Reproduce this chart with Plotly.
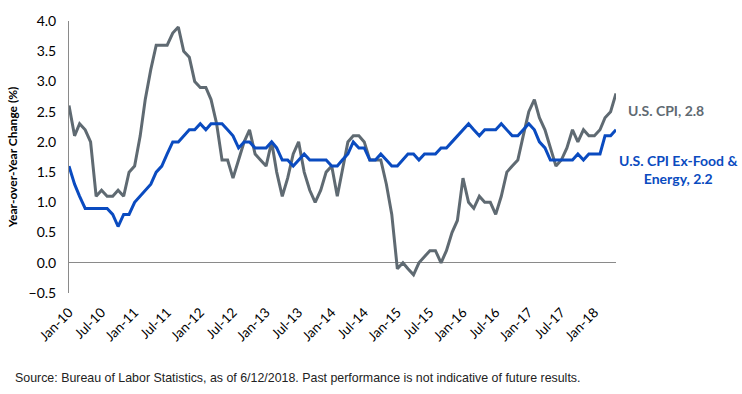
import pandas as pd
import plotly.graph_objects as go

months = pd.date_range("2010-01-01", periods=101, freq="MS")

cpi = [2.6, 2.1, 2.3, 2.2, 2.0, 1.1, 1.2, 1.1, 1.1, 1.2, 1.1, 1.5,
       1.6, 2.1, 2.7, 3.2, 3.6, 3.6, 3.6, 3.8, 3.9, 3.5, 3.4, 3.0,
       2.9, 2.9, 2.7, 2.3, 1.7, 1.7, 1.4, 1.7, 2.0, 2.2, 1.8, 1.7,
       1.6, 2.0, 1.5, 1.1, 1.4, 1.8, 2.0, 1.5, 1.2, 1.0, 1.2, 1.5,
       1.6, 1.1, 1.5, 2.0, 2.1, 2.1, 2.0, 1.7, 1.7, 1.7, 1.3, 0.8,
       -0.1, 0.0, -0.1, -0.2, 0.0, 0.1, 0.2, 0.2, 0.0, 0.2, 0.5, 0.7,
       1.4, 1.0, 0.9, 1.1, 1.0, 1.0, 0.8, 1.1, 1.5, 1.6, 1.7, 2.1,
       2.5, 2.7, 2.4, 2.2, 1.9, 1.6, 1.7, 1.9, 2.2, 2.0, 2.2, 2.1,
       2.1, 2.2, 2.4, 2.5, 2.8]

core = [1.6, 1.3, 1.1, 0.9, 0.9, 0.9, 0.9, 0.9, 0.8, 0.6, 0.8, 0.8,
        1.0, 1.1, 1.2, 1.3, 1.5, 1.6, 1.8, 2.0, 2.0, 2.1, 2.2, 2.2,
        2.3, 2.2, 2.3, 2.3, 2.3, 2.2, 2.1, 1.9, 2.0, 2.0, 1.9, 1.9,
        1.9, 2.0, 1.9, 1.7, 1.7, 1.6, 1.7, 1.8, 1.7, 1.7, 1.7, 1.7,
        1.6, 1.6, 1.7, 1.8, 2.0, 1.9, 1.9, 1.7, 1.7, 1.8, 1.7, 1.6,
        1.6, 1.7, 1.8, 1.8, 1.7, 1.8, 1.8, 1.8, 1.9, 1.9, 2.0, 2.1,
        2.2, 2.3, 2.2, 2.1, 2.2, 2.2, 2.2, 2.3, 2.2, 2.1, 2.1, 2.2,
        2.3, 2.2, 2.0, 1.9, 1.7, 1.7, 1.7, 1.7, 1.7, 1.8, 1.7, 1.8,
        1.8, 1.8, 2.1, 2.1, 2.2]

GRAY = "#5f6a72"
BLUE = "#0a4bc0"
FONT = "Lato, Carlito, Liberation Sans, sans-serif"

fig = go.Figure()
fig.add_trace(go.Scatter(x=months, y=cpi, mode="lines", name="U.S. CPI",
                         line=dict(color=GRAY, width=3)))
fig.add_trace(go.Scatter(x=months, y=core, mode="lines", name="U.S. CPI Ex-Food & Energy",
                         line=dict(color=BLUE, width=3)))

fig.update_layout(
    width=742, height=394,
    margin=dict(l=66, r=126, t=13, b=101),
    paper_bgcolor="white", plot_bgcolor="white",
    showlegend=False,
    font=dict(family=FONT, size=13, color="#000000"),
)
fig.update_xaxes(
    range=[months[0], months[-1]],
    tickformat="%b-%y", dtick="M6", tick0="2010-01-01",
    tickangle=-45, tickfont=dict(size=13.5, family=FONT),
    ticklabelstandoff=8,
    showgrid=False, showline=False, zeroline=False, ticks="",
)
fig.update_yaxes(
    range=[-0.5, 4.0], dtick=0.5, tickformat=".1f",
    showgrid=False, showline=True, linecolor="#8a8a8a", linewidth=1,
    zeroline=True, zerolinecolor="#8a8a8a", zerolinewidth=1,
    ticks="", ticklabelstandoff=9,
    tickfont=dict(size=14, family=FONT),
    title=dict(text="<b>Year-over-Year Change (%)</b>", font=dict(size=12, family=FONT), standoff=8),
)

fig.add_annotation(x=(626 - 66) / 550, y=2.52, xref="paper", yref="y", xanchor="left", yanchor="middle",
                   text="<b>U.S. CPI, 2.8</b>", showarrow=False,
                   font=dict(color=GRAY, size=14, family=FONT))
fig.add_annotation(x=(679 - 66) / 550, y=1.55, xref="paper", yref="y", xanchor="center", yanchor="middle",
                   text="<b>U.S. CPI Ex-Food &amp;<br>Energy, 2.2</b>", showarrow=False, align="center",
                   font=dict(color=BLUE, size=14, family=FONT))
fig.add_annotation(x=(10 - 66) / 550, y=(394 - 101 - 380) / 280, xref="paper", yref="paper", showarrow=False,
                   text="Source: Bureau of Labor Statistics, as of 6/12/2018. Past performance is not indicative of future results.",
                   xanchor="left", yanchor="middle",
                   font=dict(size=12.4, color="#222222", family="Liberation Sans, Arial, sans-serif"))

fig.write_html("out.html")
